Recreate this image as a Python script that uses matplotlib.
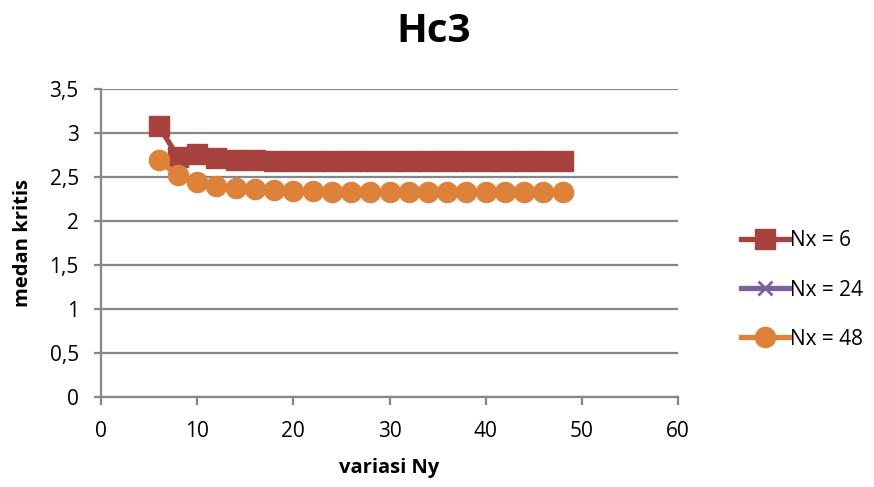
import numpy as np
import matplotlib.pyplot as plt

plt.rcParams['font.family'] = ['Open Sans', 'DejaVu Sans']

# data
ny = [6, 8, 10, 12, 14, 16, 18, 20, 22, 24, 26, 28, 30, 32, 34, 36, 38, 40, 42, 44, 46, 48]
nx6 = [3.08, 2.73, 2.76, 2.72, 2.69, 2.69, 2.68, 2.68, 2.68, 2.68, 2.68, 2.68,
       2.68, 2.68, 2.68, 2.68, 2.68, 2.68, 2.68, 2.68, 2.68, 2.68]
nx24 = [2.69, 2.52, 2.44, 2.40, 2.375, 2.36, 2.35, 2.345, 2.34, 2.335, 2.335, 2.335,
        2.335, 2.335, 2.335, 2.335, 2.335, 2.335, 2.335, 2.335, 2.335, 2.335]
nx48 = [2.69, 2.52, 2.44, 2.40, 2.375, 2.36, 2.35, 2.345, 2.34, 2.335, 2.335, 2.335,
        2.335, 2.335, 2.335, 2.335, 2.335, 2.335, 2.335, 2.335, 2.335, 2.335]
yticks = [0, 0.5, 1, 1.5, 2, 2.5, 3, 3.5]
ylabels = ['0', '0,5', '1', '1,5', '2', '2,5', '3', '3,5']

fig = plt.figure(figsize=(8.74, 4.87), dpi=100)
ax = fig.add_axes([101 / 874, 1 - 397 / 487, 577 / 874, 308 / 487])

ax.plot(ny, nx6, color='#A8423F', lw=3.8, marker='s', ms=15, label='Nx = 6')
ax.plot(ny, nx24, color='#7D5FA0', lw=3.8, marker='x', ms=10, mew=2, label='Nx = 24')
ax.plot(ny, nx48, color='#DE823A', lw=3.8, marker='o', ms=14.5, label='Nx = 48')

ax.set_xlim(0, 60)
ax.set_ylim(0, 3.5)
ax.set_xticks(range(0, 61, 10))
ax.set_yticks(yticks)
ax.set_yticklabels(ylabels)
ax.grid(axis='y', color='#878787', lw=1.6)
ax.set_axisbelow(True)
for s in ['top', 'right']:
    ax.spines[s].set_visible(False)
for s in ['left', 'bottom']:
    ax.spines[s].set_color('#878787')
    ax.spines[s].set_linewidth(1.6)
ax.tick_params(labelsize=15, color='#878787', width=1.6)
ax.tick_params(axis='x', direction='out', length=6, pad=11)
ax.tick_params(axis='y', direction='out', length=5, pad=11)

ax.set_xlabel('variasi Ny', fontsize=14.5, fontweight='bold', labelpad=12)
ax.set_ylabel('medan kritis', fontsize=14.5, fontweight='bold', labelpad=12)
fig.text(434 / 874, 1 - 32 / 487, 'Hc3', fontsize=29, fontweight='bold',
         ha='center', va='center')

fig.legend(loc='center left', bbox_to_anchor=(722 / 874, 1 - 290 / 487),
           frameon=False, fontsize=15, handlelength=2.3, labelspacing=1.35,
           handletextpad=0.05, markerscale=1.0)

fig.savefig('out.png', dpi=100)
